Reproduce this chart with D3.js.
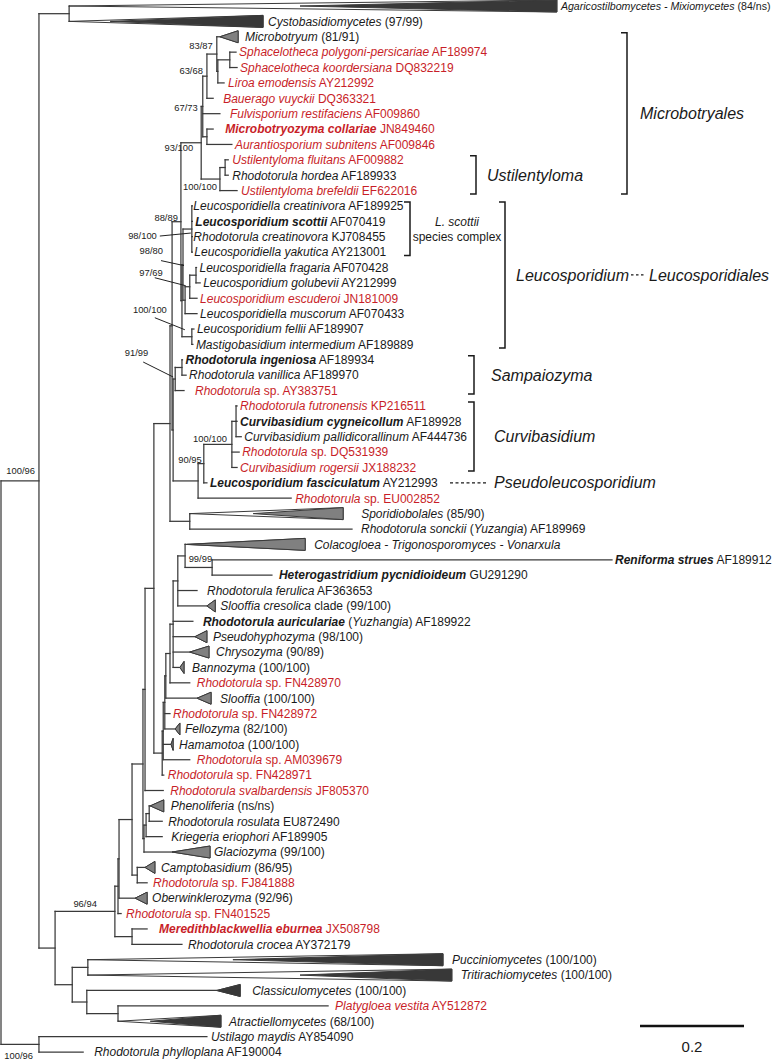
<!DOCTYPE html>
<html><head><meta charset="utf-8">
<script src="https://cdn.jsdelivr.net/npm/d3@7"></script>
<style>
body{margin:0;background:#fff}
svg{display:block}
text{font-family:"Liberation Sans",Arial,Helvetica,sans-serif;white-space:pre}
</style>
</head><body>
<svg id="chart" width="774" height="1061"></svg>
<script>
// ================= DATA =================
// Tree topology: [node, parent, distance from root (substitutions/site)]
const treeNodes = [
 ["root",null,0],
 ["A","root",0.073],
 ["B","A",0.131],
 ["agar","B",0.131],
 ["cysto","B",0.131],
 ["C","A",0.104],
 ["D","C",0.219],
 ["N118","D",0.225],
 ["N118a","N118",0.227],
 ["N132","N118a",0.252],
 ["N143","N132",0.273],
 ["N145","N143",0.277],
 ["N154","N145",0.294],
 ["L2","N154",0.325],
 ["L1","L2",0.329],
 ["L0","L1",0.346],
 ["Mb","L0",0.385],
 ["MbA","Mb",0.388],
 ["MbB","MbA",0.396],
 ["MbD","MbB",0.415],
 ["microbot","MbD",0.421],
 ["MbE","MbD",0.417],
 ["Sph","MbE",0.440],
 ["sphPol","Sph",0.452],
 ["sphKoo","Sph",0.454],
 ["liroa","MbE",0.429],
 ["bauerago","MbB",0.408],
 ["fulvi","MbA",0.421],
 ["MbC","MbA",0.396],
 ["mzyma","MbC",0.408],
 ["auranti","MbC",0.444],
 ["Us","Mb",0.421],
 ["Uf","Us",0.431],
 ["ufluit","Uf",0.437],
 ["rhord","Uf",0.437],
 ["ubref","Us",0.454],
 ["L0b","L0",0.348],
 ["Lcore","L0b",0.350],
 ["Lsc","Lcore",0.367],
 ["lcreat","Lsc",0.368],
 ["lscott","Lsc",0.368],
 ["rcreat","Lsc",0.368],
 ["lyaku","Lsc",0.368],
 ["Lm","Lcore",0.354],
 ["Lfge","Lm",0.363],
 ["Lfg","Lfge",0.375],
 ["lfrag","Lfg",0.376],
 ["lgolu","Lfg",0.383],
 ["lescu","Lfge",0.377],
 ["lmusc","Lm",0.377],
 ["Lfm","L0b",0.367],
 ["lfell","Lfm",0.371],
 ["mastig","Lfm",0.369],
 ["L1b","L1",0.331],
 ["S","L1b",0.335],
 ["IV","S",0.348],
 ["ringen","IV",0.349],
 ["rvanil","IV",0.356],
 ["ray383","S",0.352],
 ["C90","L1b",0.379],
 ["Cf","C90",0.390],
 ["Ccore","Cf",0.444],
 ["Csub","Ccore",0.452],
 ["rfutr","Csub",0.454],
 ["ccygn","Csub",0.454],
 ["cpall","Csub",0.462],
 ["rdq531","Ccore",0.458],
 ["croge","Ccore",0.454],
 ["lfasc","Cf",0.396],
 ["reu002","C90",0.558],
 ["SpS","L2",0.363],
 ["sporid","SpS",0.363],
 ["rsonck","SpS",0.675],
 ["Qg","N154",0.310],
 ["Qf","Qg",0.312],
 ["Qd","Qf",0.315],
 ["Qc","Qd",0.317],
 ["Qb","Qc",0.325],
 ["Qa","Qb",0.331],
 ["N178","Qa",0.340],
 ["CR","N178",0.354],
 ["colaco","CR",0.354],
 ["Rh","CR",0.406],
 ["renif","Rh",1.175],
 ["heterog","Rh",0.521],
 ["rferu","N178",0.377],
 ["slooC","N178",0.396],
 ["rauric","Qa",0.369],
 ["pseudoh","Qa",0.373],
 ["chryso","Qa",0.363],
 ["banno","Qa",0.344],
 ["rfn970","Qb",0.363],
 ["slooffia","Qc",0.377],
 ["rfn972","Qd",0.325],
 ["fello","Qd",0.335],
 ["hamam","Qf",0.327],
 ["ram039","Qf",0.363],
 ["rfn971","Qg",0.313],
 ["rsvalb","N145",0.312],
 ["N143b","N143",0.275],
 ["PRK","N143b",0.279],
 ["PR","PRK",0.285],
 ["phenol","PR",0.287],
 ["rrosul","PR",0.310],
 ["krieg","PRK",0.310],
 ["glacio","N143b",0.329],
 ["Cp","N132",0.262],
 ["campto","Cp",0.277],
 ["rfj841","Cp",0.281],
 ["oberw","N118a",0.258],
 ["rfn401","N118",0.231],
 ["MB","D",0.252],
 ["mered","MB",0.281],
 ["rcroc","MB",0.348],
 ["E","C",0.137],
 ["F","E",0.167],
 ["puccin","F",0.167],
 ["tritir","F",0.167],
 ["G","E",0.165],
 ["classic","G",0.415],
 ["H","G",0.225],
 ["platyg","H",0.629],
 ["atract","H",0.225],
 ["UM","root",0.073],
 ["ustil","UM",0.396],
 ["rphyll","UM",0.158]
];

// Collapsed clades: [leaf, depth of longest tip, depth where dense part starts, tone]
const collapsedClades = [
 ["agar",1.069,0.575,"dark"],
 ["cysto",0.504,0.210,"dark"],
 ["microbot",0.456,0.421,"mid"],
 ["sporid",0.658,0.485,"mid"],
 ["colaco",0.585,0.358,"mid"],
 ["slooC",0.412,0.396,"mid"],
 ["pseudoh",0.396,0.373,"mid"],
 ["chryso",0.400,0.363,"mid"],
 ["banno",0.352,0.344,"mid"],
 ["slooffia",0.404,0.377,"mid"],
 ["fello",0.344,0.335,"mid"],
 ["hamam",0.331,0.327,"mid"],
 ["phenol",0.313,0.287,"mid"],
 ["glacio",0.402,0.329,"mid"],
 ["campto",0.296,0.277,"mid"],
 ["oberw",0.281,0.258,"mid"],
 ["puccin",0.850,0.446,"dark"],
 ["tritir",0.867,0.575,"dark"],
 ["classic",0.460,0.415,"dark"],
 ["atract",0.423,0.287,"dark"]
];

// Tip labels (*italic*, **bold italic**)
const tipLabels = {
 agar:"*Agaricostilbomycetes - Mixiomycetes* (84/ns)",
 cysto:"*Cystobasidiomycetes* (97/99)",
 microbot:"*Microbotryum* (81/91)",
 sphPol:"*Sphacelotheca polygoni-persicariae* AF189974",
 sphKoo:"*Sphacelotheca koordersiana* DQ832219",
 liroa:"*Liroa emodensis* AY212992",
 bauerago:"*Bauerago vuyckii* DQ363321",
 fulvi:"*Fulvisporium restifaciens* AF009860",
 mzyma:"**Microbotryozyma collariae** JN849460",
 auranti:"*Aurantiosporium subnitens* AF009846",
 ufluit:"*Ustilentyloma fluitans* AF009882",
 rhord:"*Rhodotorula hordea* AF189933",
 ubref:"*Ustilentyloma brefeldii* EF622016",
 lcreat:"*Leucosporidiella creatinivora* AF189925",
 lscott:"**Leucosporidium scottii** AF070419",
 rcreat:"*Rhodotorula creatinovora* KJ708455",
 lyaku:"*Leucosporidiella yakutica* AY213001",
 lfrag:"*Leucosporidiella fragaria* AF070428",
 lgolu:"*Leucosporidium golubevii* AY212999",
 lescu:"*Leucosporidium escuderoi* JN181009",
 lmusc:"*Leucosporidiella muscorum* AF070433",
 lfell:"*Leucosporidium fellii* AF189907",
 mastig:"*Mastigobasidium intermedium* AF189889",
 ringen:"**Rhodotorula ingeniosa** AF189934",
 rvanil:"*Rhodotorula vanillica* AF189970",
 ray383:"*Rhodotorula* sp. AY383751",
 rfutr:"*Rhodotorula futronensis* KP216511",
 ccygn:"**Curvibasidium cygneicollum** AF189928",
 cpall:"*Curvibasidium pallidicorallinum* AF444736",
 rdq531:"*Rhodotorula* sp. DQ531939",
 croge:"*Curvibasidium rogersii* JX188232",
 lfasc:"**Leucosporidium fasciculatum** AY212993",
 reu002:"*Rhodotorula* sp. EU002852",
 sporid:"*Sporidiobolales* (85/90)",
 rsonck:"*Rhodotorula sonckii* (*Yuzangia*) AF189969",
 colaco:"*Colacogloea - Trigonosporomyces - Vonarxula*",
 renif:"**Reniforma strues** AF189912",
 heterog:"**Heterogastridium pycnidioideum** GU291290",
 rferu:"*Rhodotorula ferulica* AF363653",
 slooC:"*Slooffia cresolica* clade (99/100)",
 rauric:"**Rhodotorula auriculariae** (*Yuzhangia*) AF189922",
 pseudoh:"*Pseudohyphozyma* (98/100)",
 chryso:"*Chrysozyma* (90/89)",
 banno:"*Bannozyma* (100/100)",
 rfn970:"*Rhodotorula* sp. FN428970",
 slooffia:"*Slooffia* (100/100)",
 rfn972:"*Rhodotorula* sp. FN428972",
 fello:"*Fellozyma* (82/100)",
 hamam:"*Hamamotoa* (100/100)",
 ram039:"*Rhodotorula* sp. AM039679",
 rfn971:"*Rhodotorula* sp. FN428971",
 rsvalb:"*Rhodotorula svalbardensis* JF805370",
 phenol:"*Phenoliferia* (ns/ns)",
 rrosul:"*Rhodotorula rosulata* EU872490",
 krieg:"*Kriegeria eriophori* AF189905",
 glacio:"*Glaciozyma* (99/100)",
 campto:"*Camptobasidium* (86/95)",
 rfj841:"*Rhodotorula* sp. FJ841888",
 oberw:"*Oberwinklerozyma* (92/96)",
 rfn401:"*Rhodotorula* sp. FN401525",
 mered:"**Meredithblackwellia eburnea** JX508798",
 rcroc:"*Rhodotorula crocea* AY372179",
 puccin:"*Pucciniomycetes* (100/100)",
 tritir:"*Tritirachiomycetes* (100/100)",
 classic:"*Classiculomycetes* (100/100)",
 platyg:"*Platygloea vestita* AY512872",
 atract:"*Atractiellomycetes* (68/100)",
 ustil:"*Ustilago maydis* AY854090",
 rphyll:"*Rhodotorula phylloplana* AF190004"
};

// Tips highlighted in red
const redTips = ["sphPol","sphKoo","liroa","bauerago","fulvi","mzyma","auranti","ufluit","ubref",
 "lescu","ray383","rfutr","rdq531","croge","reu002","rfn970","rfn972","ram039","rfn971","rsvalb",
 "rfj841","rfn401","mered","platyg"];

// Support values (ML bootstrap / other)
const supportValues = [
 ["MbD","83/87"],["MbB","63/68"],["MbA","67/73"],["Mb","93/100"],["Us","100/100"],
 ["L0","88/89"],["Lsc","98/100"],["Lcore","98/80"],["Lfge","97/69"],["Lfm","100/100"],
 ["S","91/99"],["Ccore","100/100"],["Cf","90/95"],["Rh","99/99"],["D","96/94"],
 ["A","100/96"],["UM","100/96"]
];

// Clade brackets: [label, first tip, last tip]
const cladeBrackets = [
 ["Microbotryales","microbot","ubref"],
 ["Ustilentyloma","ufluit","ubref"],
 ["L. scottii|species complex","lcreat","lyaku"],
 ["Leucosporidium","lcreat","mastig"],
 ["Sampaiozyma","ringen","ray383"],
 ["Curvibasidium","rfutr","croge"]
];
const scaleBarValue = 0.2;
const scaleBarText = "0.2";

// ================= LAYOUT =================
const W = 774, H = 1061;
const lineColor = "#3a3a3a", textColor = "#1a1a1a", red = "#c81e28";
const toneFill = {dark:"#383838", mid:"#808080"};
const defaultGap = 5;
const labelSize = {agar:10.6};
const labelGap = {agar:4,microbot:7,sphPol:3,sphKoo:3,liroa:4,bauerago:10,fulvi:10,mzyma:12,auranti:3,
 ufluit:4,rhord:4,ubref:4,lcreat:1,lscott:3,rcreat:1,lyaku:2,lfrag:3,lgolu:3,lescu:3,lmusc:3,lfell:3,
 mastig:3,ringen:3,rvanil:3,ray383:11,rfutr:3,ccygn:3,cpall:3,rdq531:3,croge:3,lfasc:3,reu002:4,sporid:18,
 rsonck:9,colaco:9,renif:3,heterog:7,rferu:10,rauric:10,pseudoh:6,chryso:7,banno:8,rfn970:7,slooffia:9,
 rfn972:3,hamam:6,ram039:7,rfn971:4,rsvalb:7,phenol:7,rrosul:6,krieg:9,glacio:4,campto:6,rfj841:6,
 mered:12,rcroc:6,puccin:9,tritir:9,classic:12,platyg:7,atract:8,ustil:4,rphyll:11};
// support label placement: right end / centre relative to node, optional leader [x1,y1,x2,y2]
const supportPlace = {
 MbD:[-4,-8],MbB:[-4,-6],MbA:[-5,1.5],Mb:[-8,5],Us:[-3,8],L0:[-3,-4],
 Lsc:[-35,7,[-32,7,-1,4]],Lcore:[-20,-14,[-22,-4,1,1]],Lfge:[-27,-14,[-35,-9,-4,-1]],
 Lfm:[-25,-27,[-37,-19,-7,-7]],S:[-27,-26,[-32,-17,-2,-2]],
 Ccore:[-5,-6],Cf:[-2,-4],Rh:[0,-9],D:[-18,-8],A:[-4,-10],UM:[-6,11]
};
const bracketPlace = {
 "Microbotryales":{x:627,lx:640,size:16},
 "Ustilentyloma":{x:476,lx:487,size:16},
 "L. scottii|species complex":{x:410,lx:457,size:12,center:true},
 "Leucosporidium":{x:505,lx:516,size:16},
 "Sampaiozyma":{x:474,lx:491,size:16},
 "Curvibasidium":{x:474,lx:494,size:16}
};

// ================= BUILD =================
const svg = d3.select("#chart");
svg.append("rect").attr("width",W).attr("height",H).attr("fill","#fff");

const root = d3.stratify().id(d=>d[0]).parentId(d=>d[1])(treeNodes);
const x = d3.scaleLinear().domain([0,1]).range([1,521]);
const leafIds = root.leaves().map(d=>d.id);
const y = d3.scalePoint().domain(leafIds).range([6,1052]);
root.eachAfter(n=>{
  n.px = x(n.data[2]);
  n.py = n.children ? (n.children[0].py + n.children[n.children.length-1].py)/2 : y(n.id);
});
const byId = new Map(root.descendants().map(n=>[n.id,n]));
const collapsedMap = new Map(collapsedClades.map(c=>[c[0],c]));

const gTree = svg.append("g");
// horizontal branches
root.descendants().filter(n=>n.parent).forEach(n=>{
  gTree.append("line").attr("x1",n.parent.px).attr("x2",n.px).attr("y1",n.py).attr("y2",n.py);
});
// vertical connectors
root.descendants().filter(n=>n.children).forEach(n=>{
  gTree.append("line").attr("x1",n.px).attr("x2",n.px)
    .attr("y1",n.children[0].py).attr("y2",n.children[n.children.length-1].py);
});
gTree.selectAll("line").attr("stroke",lineColor).attr("stroke-width",1.25).attr("stroke-linecap","square");

// collapsed clades
const hh = 6;
collapsedClades.forEach(([id,base,dense,tone])=>{
  const n = byId.get(id);
  const xa=n.px, xb=x(base), xd=x(dense), yc=n.py;
  gTree.append("path").attr("d",`M${xa},${yc}L${xb},${yc-hh}L${xb},${yc+hh}Z`)
    .attr("fill","#fff").attr("stroke",lineColor).attr("stroke-width",1).attr("stroke-linejoin","miter");
  gTree.append("path").attr("d",`M${xd},${yc}L${xb},${yc-hh}L${xb},${yc+hh}Z`)
    .attr("fill",toneFill[tone]).attr("stroke",lineColor).attr("stroke-width",1);
});

// label helper
function segs(s){
  return s.split(/(\*\*[^*]+\*\*|\*[^*]+\*)/).filter(t=>t.length).map(t=>
    t.startsWith("**")?{t:t.slice(2,-2),i:true,b:true}:
    t.startsWith("*")?{t:t.slice(1,-1),i:true,b:false}:{t,i:false,b:false});
}
const gLab = svg.append("g");
leafIds.forEach(id=>{
  const n = byId.get(id);
  const c = collapsedMap.get(id);
  const tipX = c ? x(c[1]) : n.px;
  const gap = labelGap[id] !== undefined ? labelGap[id] : defaultGap;
  const t = gLab.append("text").attr("x",tipX+gap).attr("y",n.py).attr("dy","0.36em")
    .attr("font-size",labelSize[id]||12).attr("fill",redTips.includes(id)?red:textColor);
  segs(tipLabels[id]).forEach(s=>{
    t.append("tspan").text(s.t).attr("font-style",s.i?"italic":"normal").attr("font-weight",s.b?"bold":"normal");
  });
});

// support values
const gSup = svg.append("g");
supportValues.forEach(([id,txt])=>{
  const n = byId.get(id), p = supportPlace[id];
  gSup.append("text").attr("x",n.px+p[0]).attr("y",n.py+p[1]).attr("dy","0.36em")
    .attr("text-anchor","end").attr("font-size",9.4).attr("fill","#222").text(txt);
  if(p[2]){
    const L=p[2];
    gSup.append("line").attr("x1",n.px+L[0]).attr("y1",n.py+L[1]).attr("x2",n.px+L[2]).attr("y2",n.py+L[3])
      .attr("stroke","#222").attr("stroke-width",1);
  }
});

// clade brackets
const gBr = svg.append("g");
cladeBrackets.forEach(([name,first,last])=>{
  const bp = bracketPlace[name];
  const y1 = byId.get(first).py-4, y2 = byId.get(last).py+3.5;
  gBr.append("path").attr("d",`M${bp.x-6},${y1}H${bp.x}V${y2}H${bp.x-6}`)
    .attr("fill","none").attr("stroke","#1a1a1a").attr("stroke-width",1.5);
  const ym = (y1+y2)/2;
  if(bp.center){
    const parts = name.split("|");
    gBr.append("text").attr("x",bp.lx).attr("y",ym-7).attr("dy","0.36em").attr("text-anchor","middle")
      .attr("font-size",bp.size).attr("font-style","italic").attr("fill",textColor).text(parts[0]);
    gBr.append("text").attr("x",bp.lx).attr("y",ym+8).attr("dy","0.36em").attr("text-anchor","middle")
      .attr("font-size",bp.size).attr("fill",textColor).text(parts[1]);
  } else {
    gBr.append("text").attr("x",bp.lx).attr("y",ym).attr("dy","0.36em")
      .attr("font-size",bp.size).attr("font-style","italic").attr("fill",textColor).text(name);
  }
});
// Leucosporidium ... Leucosporidiales
{
  const n1 = byId.get("lcreat"), n2 = byId.get("mastig");
  const ym = ((n1.py-4)+(n2.py+3.5))/2;
  gBr.append("line").attr("x1",631).attr("x2",646).attr("y1",ym).attr("y2",ym)
    .attr("stroke","#1a1a1a").attr("stroke-width",1.3).attr("stroke-dasharray","2.5,2.5");
  gBr.append("text").attr("x",649).attr("y",ym).attr("dy","0.36em").attr("font-size",16)
    .attr("font-style","italic").attr("fill",textColor).text("Leucosporidiales");
}
// Pseudoleucosporidium pointer
{
  const n = byId.get("lfasc");
  gBr.append("line").attr("x1",450).attr("x2",486).attr("y1",n.py).attr("y2",n.py)
    .attr("stroke","#1a1a1a").attr("stroke-width",1.3).attr("stroke-dasharray","3,2.5");
  gBr.append("text").attr("x",494).attr("y",n.py-1).attr("dy","0.36em").attr("font-size",16)
    .attr("font-style","italic").attr("fill",textColor).text("Pseudoleucosporidium");
}

// scale bar
{
  const bx = 640, by = 1026, len = x(scaleBarValue)-x(0);
  svg.append("line").attr("x1",bx).attr("x2",bx+len).attr("y1",by).attr("y2",by)
    .attr("stroke","#111").attr("stroke-width",2.6);
  svg.append("text").attr("x",bx+len/2).attr("y",by+21).attr("dy","0.36em").attr("text-anchor","middle")
    .attr("font-size",15).attr("fill",textColor).text(scaleBarText);
}
</script>
</body></html>
